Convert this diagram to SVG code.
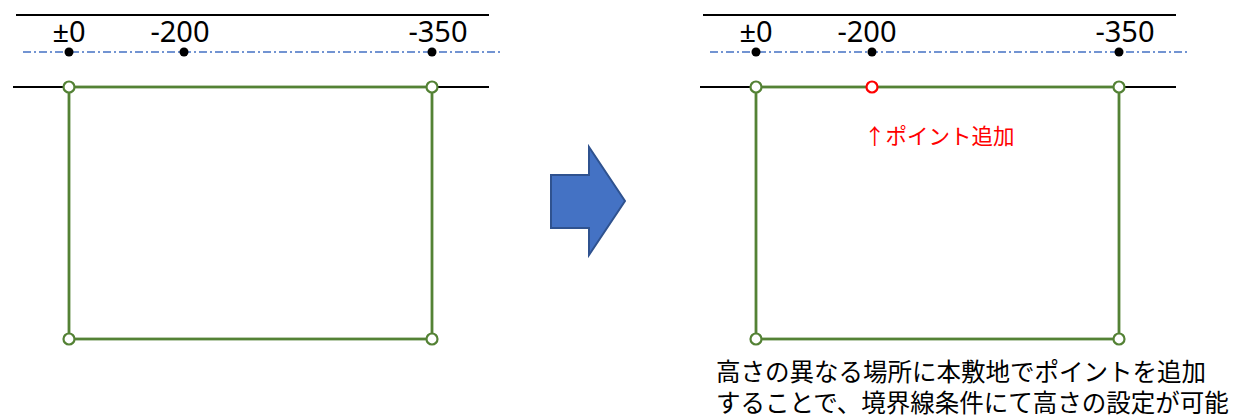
<svg xmlns="http://www.w3.org/2000/svg" width="1241" height="419" viewBox="0 0 1241 419">
<style>
.blk{stroke:#000;stroke-width:2;fill:none}
.dd{stroke:#4472C4;stroke-width:1.3;stroke-dasharray:8 3 2 3;fill:none}
.grn{stroke:#548235;stroke-width:2.8;fill:none}
.pt{fill:#fff;stroke:#548235;stroke-width:2.2}
.red{fill:#fff;stroke:#FF0000;stroke-width:2.2}
.dot{fill:#000}
.num{font-family:"Noto Sans","DejaVu Sans",sans-serif;font-size:29px;fill:#000;text-anchor:middle}
.jp{font-family:"Noto Sans CJK JP",sans-serif;font-size:24.5px;fill:#000}
.note{font-family:"Noto Sans CJK JP",sans-serif;font-size:21.5px;fill:#FF0000}
</style>
<g id="before">
<line class="blk" x1="16" y1="15" x2="489" y2="15"/>
<line class="dd" x1="23" y1="52" x2="500" y2="52"/>
<line class="blk" x1="13" y1="87" x2="489" y2="87"/>
<text class="num" x="69" y="42">±0</text>
<text class="num" x="180" y="42">-200</text>
<text class="num" x="438" y="42">-350</text>
<circle class="dot" cx="69" cy="52" r="4.5"/>
<circle class="dot" cx="184" cy="52" r="4.5"/>
<circle class="dot" cx="432" cy="52" r="4.5"/>
<rect class="grn" x="69" y="87" width="363" height="252"/>
<circle class="pt" cx="69" cy="87" r="5.5"/>
<circle class="pt" cx="432" cy="87" r="5.5"/>
<circle class="pt" cx="69" cy="339" r="5.5"/>
<circle class="pt" cx="432" cy="339" r="5.5"/>
</g>
<g id="arrow">
<polygon points="551,175 589,175 589,147 625,201 589,255 589,228 551,228" fill="#4472C4" stroke="#2F528F" stroke-width="2" stroke-linejoin="miter"/>
</g>
<g id="after">
<line class="blk" x1="703" y1="15" x2="1176" y2="15"/>
<line class="dd" x1="710" y1="52" x2="1187" y2="52"/>
<line class="blk" x1="700" y1="87" x2="1176" y2="87"/>
<text class="num" x="756" y="42">±0</text>
<text class="num" x="867" y="42">-200</text>
<text class="num" x="1125" y="42">-350</text>
<circle class="dot" cx="756" cy="52" r="4.5"/>
<circle class="dot" cx="872" cy="52" r="4.5"/>
<circle class="dot" cx="1119" cy="52" r="4.5"/>
<rect class="grn" x="756" y="87" width="363" height="252"/>
<circle class="pt" cx="756" cy="87" r="5.5"/>
<circle class="red" cx="872" cy="87" r="5.5"/>
<circle class="pt" cx="1119" cy="87" r="5.5"/>
<circle class="pt" cx="756" cy="339" r="5.5"/>
<circle class="pt" cx="1119" cy="339" r="5.5"/>
<text class="note" x="864" y="144">↑ポイント追加</text>
</g>
<g id="caption">
<text class="jp" x="716" y="381">高さの異なる場所に本敷地でポイントを追加</text>
<text class="jp" x="716" y="412">することで、境界線条件にて高さの設定が可能</text>
</g>
</svg>
